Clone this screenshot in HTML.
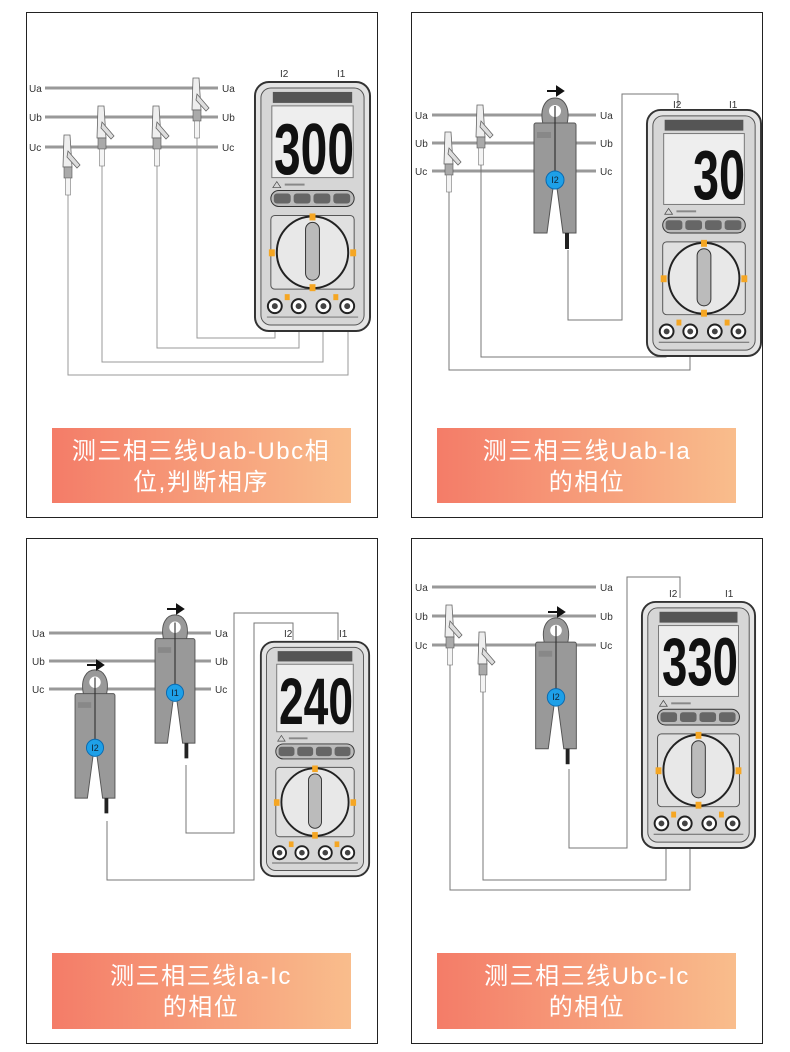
<!DOCTYPE html>
<html><head><meta charset="utf-8"><style>
html,body{margin:0;padding:0;background:#fff;}
svg{display:block;}
.lbl{font-family:"Liberation Sans",sans-serif;font-size:10px;fill:#333;}
.ban{font-family:"Liberation Sans","Noto Sans CJK SC",sans-serif;font-size:24px;fill:#fff;letter-spacing:1.5px;}
.dig{font-family:"Liberation Sans",sans-serif;font-weight:bold;fill:#111;}
.ci{font-family:"Liberation Sans",sans-serif;font-size:9px;fill:#123;}
</style></head><body>
<svg width="790" height="1052" viewBox="0 0 790 1052" xmlns="http://www.w3.org/2000/svg">
<defs>
<linearGradient id="g" x1="0" x2="1" y1="0" y2="0"><stop offset="0" stop-color="#f47c68"/><stop offset="1" stop-color="#f9bd8c"/></linearGradient>
<symbol id="meter" viewBox="0 0 120 256" preserveAspectRatio="none">
<rect x="2" y="4" width="116" height="250" rx="14" fill="#e4e4e4" stroke="#333" stroke-width="2"/>
<rect x="8" y="10" width="104" height="238" rx="10" fill="#d6d6d6" stroke="#555"/>
<rect x="20" y="14" width="80" height="11" fill="#555"/>
<rect x="19" y="28" width="82" height="72" fill="#eee" stroke="#777"/>
<path d="M20 110l4-6 4 6z" fill="none" stroke="#444" stroke-width=".7"/>
<rect x="32" y="106" width="20" height="2" fill="#888"/>
<rect x="18" y="113" width="84" height="16" rx="8" fill="#bbb" stroke="#333"/>
<rect x="21" y="116" width="17" height="10" rx="3" fill="#666"/><rect x="41" y="116" width="17" height="10" rx="3" fill="#666"/>
<rect x="61" y="116" width="17" height="10" rx="3" fill="#666"/><rect x="81" y="116" width="17" height="10" rx="3" fill="#666"/>
<rect x="18" y="138" width="84" height="74" rx="4" fill="#e0e0e0" stroke="#555"/>
<circle cx="60" cy="175" r="36" fill="#e8e8e8" stroke="#222" stroke-width="2"/>
<rect x="53" y="145" width="14" height="58" rx="7" fill="#bbb" stroke="#333"/>
<rect x="57" y="136" width="6" height="7" fill="#f5a623"/><rect x="57" y="207" width="6" height="7" fill="#f5a623"/>
<rect x="16" y="172" width="6" height="7" fill="#f5a623"/><rect x="98" y="172" width="6" height="7" fill="#f5a623"/>
<rect x="32" y="217" width="5" height="6" fill="#f5a623"/><rect x="81" y="217" width="5" height="6" fill="#f5a623"/>
<circle cx="22" cy="229" r="7" fill="#fff" stroke="#222" stroke-width="2"/><circle cx="22" cy="229" r="3" fill="#444"/>
<circle cx="46" cy="229" r="7" fill="#fff" stroke="#222" stroke-width="2"/><circle cx="46" cy="229" r="3" fill="#444"/>
<circle cx="71" cy="229" r="7" fill="#fff" stroke="#222" stroke-width="2"/><circle cx="71" cy="229" r="3" fill="#444"/>
<circle cx="95" cy="229" r="7" fill="#fff" stroke="#222" stroke-width="2"/><circle cx="95" cy="229" r="3" fill="#444"/>
<path d="M14 240h92" stroke="#666"/>
</symbol>
<symbol id="clamp" viewBox="0 0 42 160" overflow="visible">
<path d="M9 28 C5 10,13 2,21 2 C29 2,37 10,33 28 Z" fill="#999" stroke="#555"/>
<circle cx="21" cy="15" r="6" fill="#fff"/>
<path d="M2 27h38a2 2 0 0 1 2 2v108h-13l-8-60-8 60h-13v-108a2 2 0 0 1 2-2z" fill="#999" stroke="#555"/>
<rect x="3" y="36" width="14" height="6" fill="#888"/>
<path d="M21 10v70" stroke="#333" stroke-width="1.2"/>
<circle cx="21" cy="84" r="9" fill="#1ea0e8" stroke="#0a6ab0"/>
<rect x="31" y="137" width="4" height="16" fill="#222"/>
</symbol>
<symbol id="clip" viewBox="-10 0 30 70" overflow="visible">
<path d="M-4 0h6l2 32h-9z" fill="#eee" stroke="#666" stroke-width=".8"/>
<path d="M0 16l12 14-3 3-10-11z" fill="#ddd" stroke="#666" stroke-width=".8"/>
<rect x="-4" y="32" width="8" height="11" fill="#aaa" stroke="#555" stroke-width=".6"/>
<rect x="-2.5" y="43" width="5" height="17" fill="#f4f4f4" stroke="#777" stroke-width=".6"/>
</symbol>
</defs>

<rect x="26.5" y="12.5" width="351" height="505" fill="none" stroke="#222"/>
<rect x="411.5" y="12.5" width="351" height="505" fill="none" stroke="#222"/>
<rect x="26.5" y="538.5" width="351" height="505" fill="none" stroke="#222"/>
<rect x="411.5" y="538.5" width="351" height="505" fill="none" stroke="#222"/>

<!-- PANEL 1 -->
<g stroke="#999" stroke-width="3"><path d="M45 88H218M45 117H218M45 147H218"/></g>
<text class="lbl" x="29" y="92">Ua</text><text class="lbl" x="222" y="92">Ua</text>
<text class="lbl" x="29" y="121">Ub</text><text class="lbl" x="222" y="121">Ub</text>
<text class="lbl" x="29" y="151">Uc</text><text class="lbl" x="222" y="151">Uc</text>
<g fill="none" stroke="#999" stroke-width="1">
<path d="M68 195V375H348V315"/><path d="M102 166V362H323V315"/><path d="M157 166V348H299V315"/><path d="M197 138V338H275V315"/>
</g>
<use href="#clip" x="58" y="135" width="30" height="70"/>
<use href="#clip" x="92" y="106" width="30" height="70"/>
<use href="#clip" x="147" y="106" width="30" height="70"/>
<use href="#clip" x="187" y="78" width="30" height="70"/>
<use href="#meter" x="253" y="78" width="119" height="255"/>
<text class="lbl" x="280" y="77">I2</text><text class="lbl" x="337" y="77">I1</text>
<text class="dig" x="274" y="174" font-size="72" textLength="80" lengthAdjust="spacingAndGlyphs">300</text>
<rect x="52" y="428" width="299" height="75" fill="url(#g)"/>
<text class="ban" x="201" y="459" text-anchor="middle">测三相三线Uab-Ubc相</text>
<text class="ban" x="201" y="490" text-anchor="middle">位,判断相序</text>

<!-- PANEL 2 -->
<g stroke="#999" stroke-width="3"><path d="M432 115H596M432 143H596M432 171H596"/></g>
<text class="lbl" x="415" y="119">Ua</text><text class="lbl" x="600" y="119">Ua</text>
<text class="lbl" x="415" y="147">Ub</text><text class="lbl" x="600" y="147">Ub</text>
<text class="lbl" x="415" y="175">Uc</text><text class="lbl" x="600" y="175">Uc</text>
<g fill="none" stroke="#777" stroke-width="1">
<path d="M449 192V370H690V338"/><path d="M481 165V357H666V338"/><path d="M568 250V320H622V94H678V106"/>
</g>
<use href="#clip" x="439" y="132" width="30" height="70"/>
<use href="#clip" x="471" y="105" width="30" height="70"/>
<use href="#clamp" x="534" y="96" width="42" height="160"/>
<text class="ci" x="555" y="183" text-anchor="middle">I2</text>
<path d="M547 91h10M557 87l6 4-6 4z" stroke="#111" stroke-width="2" fill="#111"/>
<use href="#meter" x="645" y="106" width="118" height="252"/>
<text class="lbl" x="673" y="108">I2</text><text class="lbl" x="729" y="108">I1</text>
<text class="dig" x="693" y="199" font-size="70" textLength="52" lengthAdjust="spacingAndGlyphs">30</text>
<rect x="437" y="428" width="299" height="75" fill="url(#g)"/>
<text class="ban" x="587" y="459" text-anchor="middle">测三相三线Uab-Ia</text>
<text class="ban" x="587" y="490" text-anchor="middle">的相位</text>

<!-- PANEL 3 -->
<g stroke="#999" stroke-width="3"><path d="M49 633H211M49 661H211M49 689H211"/></g>
<text class="lbl" x="32" y="637">Ua</text><text class="lbl" x="215" y="637">Ua</text>
<text class="lbl" x="32" y="665">Ub</text><text class="lbl" x="215" y="665">Ub</text>
<text class="lbl" x="32" y="693">Uc</text><text class="lbl" x="215" y="693">Uc</text>
<g fill="none" stroke="#777" stroke-width="1">
<path d="M186 765V833H234V613H338V640"/><path d="M107 821V880H254V623H293V640"/>
</g>
<use href="#clamp" x="154" y="613" width="42" height="152"/>
<text class="ci" x="175" y="696" text-anchor="middle">I1</text>
<path d="M167 609h10M177 605l6 4-6 4z" stroke="#111" stroke-width="2" fill="#111"/>
<use href="#clamp" x="74" y="668" width="42" height="152"/>
<text class="ci" x="95" y="751" text-anchor="middle">I2</text>
<path d="M87 665h10M97 661l6 4-6 4z" stroke="#111" stroke-width="2" fill="#111"/>
<use href="#meter" x="259" y="638" width="112" height="240"/>
<text class="lbl" x="284" y="637">I2</text><text class="lbl" x="339" y="637">I1</text>
<text class="dig" x="279" y="724" font-size="66" textLength="74" lengthAdjust="spacingAndGlyphs">240</text>
<rect x="52" y="953" width="299" height="76" fill="url(#g)"/>
<text class="ban" x="201" y="984" text-anchor="middle">测三相三线Ia-Ic</text>
<text class="ban" x="201" y="1015" text-anchor="middle">的相位</text>

<!-- PANEL 4 -->
<g stroke="#999" stroke-width="3"><path d="M432 587H596M432 616H596M432 645H596"/></g>
<text class="lbl" x="415" y="591">Ua</text><text class="lbl" x="600" y="591">Ua</text>
<text class="lbl" x="415" y="620">Ub</text><text class="lbl" x="600" y="620">Ub</text>
<text class="lbl" x="415" y="649">Uc</text><text class="lbl" x="600" y="649">Uc</text>
<g fill="none" stroke="#777" stroke-width="1">
<path d="M450 665V890H690V830"/><path d="M483 692V880H666V830"/><path d="M569 769V848H627V577H680V598"/>
</g>
<use href="#clip" x="440" y="605" width="30" height="70"/>
<use href="#clip" x="473" y="632" width="30" height="70"/>
<use href="#clamp" x="535" y="616" width="42" height="155"/>
<text class="ci" x="556" y="700" text-anchor="middle">I2</text>
<path d="M548 612h10M558 608l6 4-6 4z" stroke="#111" stroke-width="2" fill="#111"/>
<use href="#meter" x="640" y="598" width="117" height="252"/>
<text class="lbl" x="669" y="597">I2</text><text class="lbl" x="725" y="597">I1</text>
<text class="dig" x="662" y="685" font-size="68" textLength="76" lengthAdjust="spacingAndGlyphs">330</text>
<rect x="437" y="953" width="299" height="76" fill="url(#g)"/>
<text class="ban" x="587" y="984" text-anchor="middle">测三相三线Ubc-Ic</text>
<text class="ban" x="587" y="1015" text-anchor="middle">的相位</text>
</svg>
</body></html>
